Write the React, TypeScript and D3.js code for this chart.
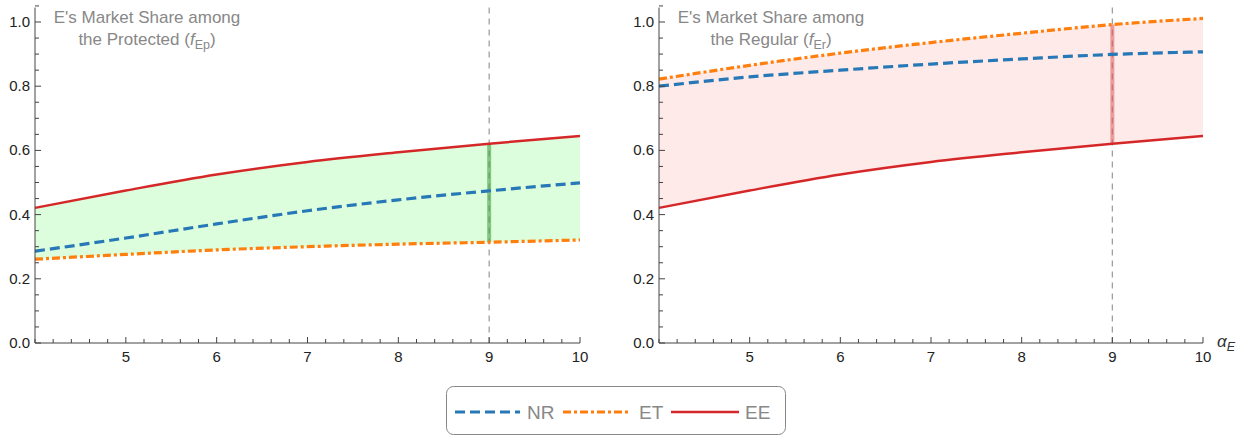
import React from "react";
import * as d3 from "d3";

const alpha = [4, 5, 6, 7, 8, 9, 10];
const protectedNR = [0.286, 0.327, 0.371, 0.412, 0.446, 0.474, 0.499];
const protectedET = [0.261, 0.276, 0.29, 0.3, 0.308, 0.314, 0.321];
const protectedEE = [0.421, 0.475, 0.525, 0.564, 0.594, 0.621, 0.645];
const regularNR = [0.8, 0.829, 0.85, 0.869, 0.885, 0.899, 0.907];
const regularET = [0.822, 0.865, 0.903, 0.936, 0.965, 0.992, 1.011];
const regularEE = [0.421, 0.475, 0.525, 0.564, 0.594, 0.621, 0.645];
const yTicks = [0, 0.2, 0.4, 0.6, 0.8, 1.0];
const xTicks = [5, 6, 7, 8, 9, 10];
const markerAlpha = 9;

const BLUE = "#2778b6";
const ORANGE = "#ff7f0e";
const RED = "#d62728";
const FONT = "'Liberation Sans', Arial, sans-serif";

type PanelProps = {
  x0: number;
  x1: number;
  nr: number[];
  et: number[];
  ee: number[];
  fill: string;
  markColor: string;
  titleSub: string;
  titleWord: string;
  titleCx: number;
  showAxisLabel?: boolean;
};

const yScale = d3.scaleLinear().domain([0, 1]).range([343, 22]);
const yTop = yScale(1.045);

function Panel(p: PanelProps) {
  const x = d3.scaleLinear().domain([4, 10]).range([p.x0, p.x1]);
  const y = yScale;
  const line = d3
    .line<number>()
    .x((_, i) => x(alpha[i]))
    .y((d) => y(d))
    .curve(d3.curveMonotoneX);
  const upper = p.nr.map((_, i) => Math.max(p.nr[i], p.et[i], p.ee[i]));
  const lower = p.nr.map((_, i) => Math.min(p.nr[i], p.et[i], p.ee[i]));
  const area = d3
    .area<number>()
    .x((_, i) => x(alpha[i]))
    .y0((_, i) => y(lower[i]))
    .y1((d) => y(d))
    .curve(d3.curveMonotoneX);
  const idx = alpha.indexOf(markerAlpha);
  const minorX = d3.range(4, 10.001, 0.2).map((v) => Math.round(v * 10) / 10);
  const minorY = d3.range(0, 1.0501, 0.05).map((v) => Math.round(v * 100) / 100);
  return (
    <g>
      <path d={area(upper) || ""} fill={p.fill} stroke="none" />
      <line
        x1={x(markerAlpha)}
        x2={x(markerAlpha)}
        y1={yTop}
        y2={y(0)}
        stroke="#999"
        strokeWidth={1.2}
        strokeDasharray="6,5"
      />
      <line
        x1={x(markerAlpha)}
        x2={x(markerAlpha)}
        y1={y(upper[idx])}
        y2={y(lower[idx])}
        stroke={p.markColor}
        strokeWidth={4}
      />
      <path d={line(p.ee) || ""} fill="none" stroke={RED} strokeWidth={2.5} />
      <path
        d={line(p.et) || ""}
        fill="none"
        stroke={ORANGE}
        strokeWidth={3.2}
        strokeDasharray="8,3,3,3"
      />
      <path
        d={line(p.nr) || ""}
        fill="none"
        stroke={BLUE}
        strokeWidth={3.2}
        strokeDasharray="10,5"
      />
      <line x1={p.x0} x2={p.x0} y1={yTop} y2={y(0)} stroke="#444" strokeWidth={1} />
      <line x1={p.x0} x2={p.x1} y1={y(0)} y2={y(0)} stroke="#444" strokeWidth={1} />
      {minorX.map((v) => {
        const major = xTicks.includes(v);
        return (
          <line
            key={"mx" + v}
            x1={x(v)}
            x2={x(v)}
            y1={y(0)}
            y2={y(0) - (major ? 6 : 4)}
            stroke="#444"
            strokeWidth={1}
          />
        );
      })}
      {minorY.map((v) => {
        const major = yTicks.some((t) => Math.abs(t - v) < 1e-6);
        return (
          <line
            key={"my" + v}
            x1={p.x0}
            x2={p.x0 + (major ? 6 : 4)}
            y1={y(v)}
            y2={y(v)}
            stroke="#444"
            strokeWidth={1}
          />
        );
      })}
      {xTicks.map((v) => (
        <text
          key={"xt" + v}
          x={x(v)}
          y={y(0) + 18.5}
          textAnchor="middle"
          fontSize={15}
          fill="#222"
          fontFamily={FONT}
        >
          {v}
        </text>
      ))}
      {yTicks.map((v) => (
        <text
          key={"yt" + v}
          x={p.x0 - 5}
          y={y(v) + 5}
          textAnchor="end"
          fontSize={15}
          fill="#222"
          fontFamily={FONT}
        >
          {v.toFixed(1)}
        </text>
      ))}
      <text x={p.titleCx} y={23} textAnchor="middle" fontSize={17} fill="#888" fontFamily={FONT}>
        E's Market Share among
      </text>
      <text x={p.titleCx} y={45} textAnchor="middle" fontSize={17} fill="#888" fontFamily={FONT}>
        {"the " + p.titleWord + " ("}
        <tspan fontStyle="italic">f</tspan>
        <tspan fontSize={12.5} dy={4}>
          {p.titleSub}
        </tspan>
        <tspan dy={-4}>)</tspan>
      </text>
      {p.showAxisLabel && (
        <text x={1217} y={347} fontSize={17} fill="#333" fontFamily={FONT} fontStyle="italic">
          α<tspan fontSize={12.5} dy={4}>E</tspan>
        </text>
      )}
    </g>
  );
}

export default function App() {
  const legendItems = [
    { label: "NR", color: BLUE, dash: "10,5", x1: 455, x2: 520, tx: 527, w: 3.2 },
    { label: "ET", color: ORANGE, dash: "8,3,3,3", x1: 563, x2: 628, tx: 639, w: 3.2 },
    { label: "EE", color: RED, dash: "", x1: 671, x2: 739, tx: 745, w: 2.5 },
  ];
  return (
    <svg
      width={1249}
      height={438}
      style={{ position: "absolute", left: 0, top: 0, background: "#fff" }}
    >
      <rect x={0} y={0} width={1249} height={438} fill="#fff" />
      <Panel
        x0={35}
        x1={580}
        nr={protectedNR}
        et={protectedET}
        ee={protectedEE}
        fill="#ddfedd"
        markColor="rgba(70,160,70,0.6)"
        titleSub="Ep"
        titleWord="Protected"
        titleCx={147}
      />
      <Panel
        x0={659}
        x1={1203}
        nr={regularNR}
        et={regularET}
        ee={regularEE}
        fill="#ffeaea"
        markColor="rgba(220,90,90,0.55)"
        titleSub="Er"
        titleWord="Regular"
        titleCx={771}
        showAxisLabel
      />
      <rect
        x={446.5}
        y={386.5}
        width={339}
        height={48}
        rx={7}
        fill="#fff"
        stroke="#888"
        strokeWidth={1}
      />
      {legendItems.map((it) => (
        <g key={it.label}>
          <line
            x1={it.x1}
            x2={it.x2}
            y1={412}
            y2={412}
            stroke={it.color}
            strokeWidth={it.w}
            strokeDasharray={it.dash || undefined}
          />
          <text x={it.tx} y={419} fontSize={19} fill="#888" fontFamily={FONT}>
            {it.label}
          </text>
        </g>
      ))}
    </svg>
  );
}
